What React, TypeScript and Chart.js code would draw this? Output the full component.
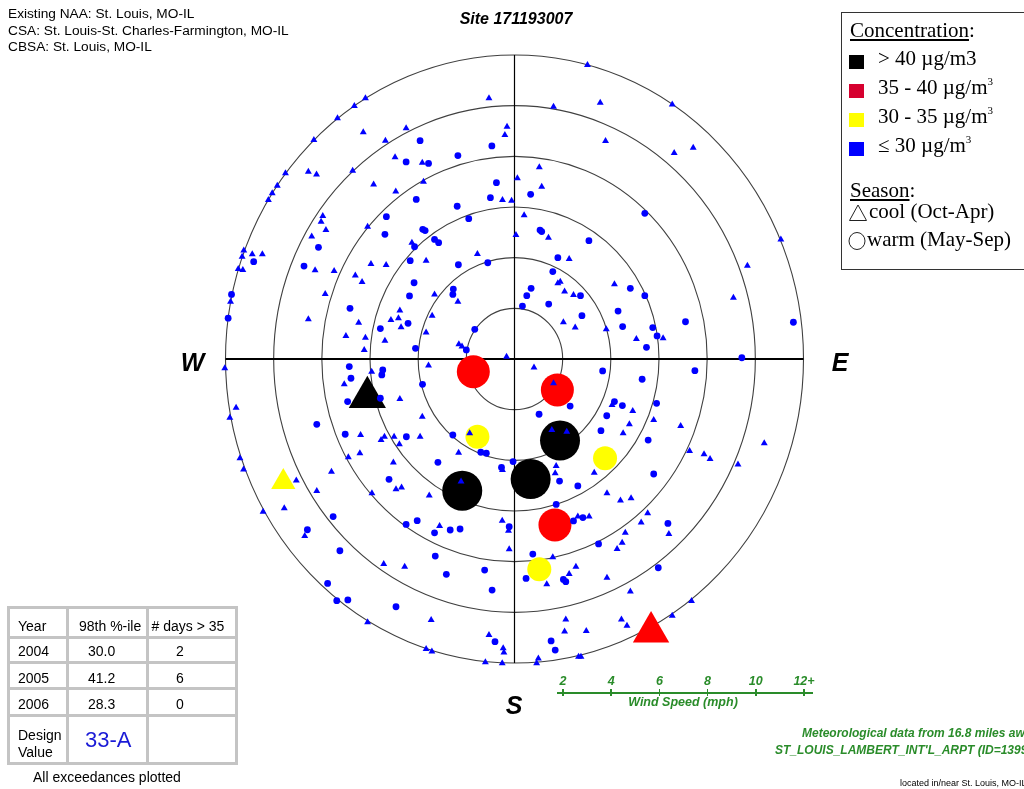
import React, { useEffect, useRef } from "react";
import { Chart, registerables } from "chart.js";

Chart.register(...registerables);

// ---- Wind speed rings (mph) ----
const RING_SPEEDS = [2, 4, 6, 8, 10, 12];
const MAX_SPEED = 12;
const SPEED_TICK_LABELS = ["2", "4", "6", "8", "10", "12+"];

// ---- Observations: [east component, north component] in mph ----
// cool season (Oct-Apr), concentration <= 30 ug/m3
const coolLow: [number, number][] = [
  [-1.06, 10.29], [-6.19, 10.29], [-6.65, 9.99], [-7.35, 9.5], [-0.31, 9.17], [-0.4, 8.84], [-4.5, 9.11],
  [-6.28, 8.95], [-8.33, 8.64], [-5.36, 8.62], [-4.96, 7.96], [-3.83, 7.75], [-9.51, 7.33], [-8.56, 7.39],
  [-8.22, 7.28], [-6.72, 7.43], [-9.85, 6.84], [-10.06, 6.54], [-10.22, 6.28], [-5.85, 6.89], [-3.78, 7.0],
  [-4.93, 6.61], [-0.5, 6.28], [-7.96, 5.64], [-8.03, 5.42], [-7.83, 5.09], [-6.1, 5.22], [-8.42, 4.84],
  [-4.26, 4.59], [-11.24, 4.28], [-11.31, 4.04], [-10.89, 4.13], [-10.47, 4.13], [-11.47, 3.55], [-11.28, 3.51],
  [-8.28, 3.5], [-7.49, 3.47], [-5.96, 3.75], [-5.33, 3.71], [-3.67, 3.88], [-1.54, 4.14], [-6.61, 3.3],
  [-6.33, 3.04], [-7.86, 2.57], [-11.79, 2.26], [-3.32, 2.55], [-2.35, 2.26], [-8.56, 1.57], [-4.76, 1.91],
  [-5.13, 1.54], [-4.82, 1.61], [-6.47, 1.43], [-4.71, 1.25], [-3.42, 1.71], [-7.0, 0.91], [-6.19, 0.84],
  [-5.38, 0.72], [-3.67, 1.05], [-6.24, 0.36], [-2.31, 0.58], [-2.18, 0.49], [-0.33, 0.09],
  [3.03, 11.61], [1.62, 9.96], [3.56, 10.12], [6.55, 10.05], [3.78, 8.61], [6.63, 8.13], [7.42, 8.34],
  [1.03, 7.57], [0.12, 7.13], [1.13, 6.8], [-0.12, 6.25], [0.4, 5.67], [0.06, 4.89], [1.41, 4.79],
  [11.06, 4.72], [2.27, 3.95], [9.67, 3.68], [1.9, 3.05], [1.8, 2.99], [2.08, 2.66], [2.45, 2.53],
  [4.15, 2.95], [9.09, 2.42], [2.03, 1.45], [2.52, 1.24], [3.81, 1.17], [6.17, 0.82], [5.06, 0.79],
  [-12.03, -0.37], [-11.56, -1.92], [-11.82, -2.32], [-11.4, -3.92], [-11.25, -4.36], [-10.44, -6.03],
  [-9.56, -5.89], [-9.06, -4.8], [-8.21, -5.21], [-7.6, -4.45], [-8.71, -6.99], [-6.1, -10.39],
  [-3.46, -10.3], [-3.67, -11.45], [-3.43, -11.55], [-1.06, -10.89], [-0.47, -11.42], [-0.44, -11.59],
  [-1.21, -11.97], [-0.51, -12.01], [-7.07, -1.0], [-5.93, -0.5], [-4.76, -1.58], [-3.57, -0.26],
  [-3.83, -2.28], [-6.39, -3.0], [-5.54, -3.2], [-5.4, -3.07], [-5.0, -3.07], [-4.78, -3.37], [-3.92, -3.07],
  [-1.86, -2.93], [-2.32, -3.7], [-6.42, -3.72], [-6.9, -3.88], [-5.03, -4.09], [-4.92, -5.14], [-4.69, -5.07],
  [-5.92, -5.3], [-3.54, -5.39], [-2.22, -4.84], [-0.5, -4.38], [-3.11, -6.59], [-0.51, -6.38], [-0.25, -6.78],
  [-0.22, -7.51], [-5.43, -8.09], [-4.56, -8.2],
  [0.81, -0.34], [1.62, -0.96], [4.05, -1.82], [4.91, -2.05], [4.77, -2.58], [5.78, -2.41], [6.9, -2.64],
  [4.51, -2.93], [1.55, -2.8], [2.17, -2.87], [10.37, -3.33], [7.27, -3.63], [7.87, -3.76], [8.12, -3.95],
  [9.28, -4.16], [1.73, -4.22], [1.69, -4.51], [3.31, -4.49], [3.84, -5.3], [4.4, -5.59], [4.84, -5.5],
  [2.63, -6.22], [3.1, -6.22], [5.53, -6.09], [5.26, -6.45], [6.41, -6.91], [4.6, -6.86], [4.47, -7.25],
  [4.26, -7.5], [1.59, -7.83], [1.34, -8.89], [2.27, -8.49], [2.55, -8.2], [3.84, -8.63], [4.81, -9.18],
  [7.35, -9.55], [6.55, -10.13], [2.13, -10.28], [4.44, -10.28], [4.67, -10.53], [2.08, -10.76],
  [2.98, -10.74], [0.99, -11.82], [0.92, -12.01], [2.66, -11.75], [2.76, -11.75],
];

// warm season (May-Sep), concentration <= 30 ug/m3
const warmLow: [number, number][] = [
  [-3.92, 8.62], [-0.94, 8.41], [-2.35, 8.03], [-4.5, 7.78], [-3.57, 7.72], [-0.75, 6.96], [-4.08, 6.3],
  [-1.0, 6.37], [-2.38, 6.03], [-1.9, 5.54], [-5.32, 5.62], [-5.38, 4.92], [-3.81, 5.12], [-3.71, 5.07],
  [-8.14, 4.41], [-4.15, 4.43], [-3.32, 4.72], [-3.15, 4.59], [-10.83, 3.84], [-8.74, 3.67], [-4.33, 3.88],
  [-2.33, 3.72], [-1.11, 3.8], [-4.17, 3.01], [-11.75, 2.55], [-4.36, 2.49], [-2.54, 2.76], [-2.56, 2.55],
  [-6.83, 2.0], [-11.89, 1.61], [-4.42, 1.41], [-5.57, 1.2], [-1.65, 1.17], [-4.11, 0.42], [-2.0, 0.36],
  [0.67, 6.5], [5.41, 5.75], [1.06, 5.09], [1.13, 5.03], [3.09, 4.67], [1.8, 4.0], [1.59, 3.45],
  [0.69, 2.79], [2.74, 2.5], [0.51, 2.5], [4.81, 2.79], [5.41, 2.5], [1.42, 2.17], [0.33, 2.09],
  [4.3, 1.89], [2.8, 1.71], [4.49, 1.28], [5.74, 1.24], [5.92, 0.91], [5.48, 0.46], [7.1, 1.47],
  [11.58, 1.45], [9.44, 0.05],
  [-8.21, -2.58], [-7.53, -6.22], [-8.6, -6.74], [-7.25, -7.57], [-7.76, -8.86], [-7.38, -9.54],
  [-6.92, -9.51], [-4.92, -9.78], [-0.81, -11.16], [-6.86, -0.3], [-6.79, -0.76], [-6.93, -1.68],
  [-5.47, -0.43], [-5.51, -0.63], [-5.57, -1.55], [-3.82, -1.0], [-7.03, -2.97], [-4.49, -3.07],
  [-2.56, -3.0], [-1.4, -3.68], [-1.17, -3.72], [-3.18, -4.08], [-5.21, -4.75], [-0.54, -4.28],
  [-0.06, -4.05], [-4.5, -6.53], [-4.04, -6.38], [-3.32, -6.86], [-2.67, -6.75], [-2.26, -6.71],
  [-0.22, -6.62], [-3.29, -7.78], [-2.83, -8.5], [-1.24, -8.33], [-0.93, -9.12],
  [3.66, -0.47], [5.3, -0.8], [7.49, -0.46], [2.31, -1.86], [1.02, -2.18], [4.15, -1.68], [4.48, -1.84],
  [5.9, -1.75], [3.83, -2.24], [3.59, -2.83], [5.55, -3.2], [1.87, -4.82], [2.63, -5.01], [5.78, -4.54],
  [1.73, -5.74], [2.84, -6.26], [2.45, -6.39], [6.37, -6.49], [3.49, -7.3], [0.76, -7.7], [0.48, -8.66],
  [2.03, -8.7], [2.13, -8.79], [5.97, -8.24], [1.52, -11.13], [1.69, -11.49],
];

// exceedance days
const warmOver40: [number, number][] = [[1.89, -3.22], [0.67, -4.74], [-2.17, -5.2]];
const coolOver40: [number, number][] = [[-6.11, -1.51]];
const warm35to40: [number, number][] = [[-1.71, -0.5], [1.78, -1.22], [1.68, -6.55]];
const cool35to40: [number, number][] = [[5.67, -10.78]];
const warm30to35: [number, number][] = [[-1.54, -3.07], [3.76, -3.92], [1.03, -8.3]];
const cool30to35: [number, number][] = [[-9.6, -4.86]];

// ---- Summary table ----
const TABLE_YEARS = ["2004", "2005", "2006"];
const TABLE_P98 = ["30.0", "41.2", "28.3"];
const TABLE_DAYS = ["2", "6", "0"];
const DESIGN_VALUE = "33-A";

const BLUE = "#0000ff";
const GREEN = "#2a8c2a";

const SERIES = [
  { label: "cool ≤30", data: coolLow, style: "triangle", radius: 4, color: BLUE },
  { label: "warm ≤30", data: warmLow, style: "circle", radius: 3.4, color: BLUE },
  { label: "warm >40", data: warmOver40, style: "circle", radius: 20, color: "#000000" },
  { label: "cool >40", data: coolOver40, style: "triangle", radius: 21.5, color: "#000000" },
  { label: "warm 35-40", data: warm35to40, style: "circle", radius: 16.5, color: "#ff0000" },
  { label: "cool 35-40", data: cool35to40, style: "triangle", radius: 21, color: "#ff0000" },
  { label: "warm 30-35", data: warm30to35, style: "circle", radius: 12, color: "#ffff00" },
  { label: "cool 30-35", data: cool30to35, style: "triangle", radius: 14, color: "#ffff00" },
];

const polarGrid = {
  id: "polarGrid",
  beforeDatasetsDraw(chart: any) {
    const { ctx, scales } = chart;
    const x = scales.x;
    const y = scales.y;
    const cx = x.getPixelForValue(0);
    const cy = y.getPixelForValue(0);
    ctx.save();
    ctx.strokeStyle = "#404040";
    ctx.lineWidth = 1.1;
    RING_SPEEDS.forEach((s) => {
      const rx = x.getPixelForValue(s) - cx;
      const ry = cy - y.getPixelForValue(s);
      ctx.beginPath();
      ctx.ellipse(cx, cy, rx, ry, 0, 0, Math.PI * 2);
      ctx.stroke();
    });
    ctx.strokeStyle = "#000";
    ctx.lineWidth = 2;
    ctx.beginPath();
    ctx.moveTo(x.getPixelForValue(-MAX_SPEED), cy);
    ctx.lineTo(x.getPixelForValue(MAX_SPEED), cy);
    ctx.stroke();
    ctx.lineWidth = 1.2;
    ctx.beginPath();
    ctx.moveTo(cx, y.getPixelForValue(MAX_SPEED));
    ctx.lineTo(cx, y.getPixelForValue(-MAX_SPEED));
    ctx.stroke();
    ctx.restore();
  },
};

const SANS = '"Liberation Sans", Arial, sans-serif';
const SERIF = '"Liberation Serif", "Times New Roman", serif';

function Txt(props: {
  x: number;
  y: number;
  size: number;
  children: any;
  align?: "left" | "center";
  style?: any;
}) {
  const { x, y, size, children, align = "left", style = {} } = props;
  return (
    <div
      style={{
        position: "absolute",
        left: x,
        top: y - size * 0.85,
        fontSize: size,
        lineHeight: `${size}px`,
        whiteSpace: "nowrap",
        transform: align === "center" ? "translateX(-50%)" : undefined,
        ...style,
      }}
    >
      {children}
    </div>
  );
}

function Sup3() {
  return (
    <span style={{ fontSize: 11, lineHeight: "11px", verticalAlign: "baseline", position: "relative", top: -9 }}>
      3
    </span>
  );
}

export default function App() {
  const canvasRef = useRef<HTMLCanvasElement | null>(null);

  useEffect(() => {
    if (!canvasRef.current) return;
    const chart = new Chart(canvasRef.current, {
      type: "scatter",
      data: {
        datasets: SERIES.map((s) => ({
          label: s.label,
          data: s.data.map(([x, y]) => ({ x, y })),
          pointStyle: s.style as any,
          pointRadius: s.radius,
          pointBackgroundColor: s.color,
          pointBorderColor: s.color,
          pointBorderWidth: 0,
          backgroundColor: s.color,
          borderColor: s.color,
          clip: false as any,
        })),
      },
      options: {
        responsive: false,
        animation: false,
        events: [],
        layout: { padding: { left: 225.5, right: 220.5, top: 55, bottom: 126 } },
        scales: {
          x: { type: "linear", min: -MAX_SPEED, max: MAX_SPEED, display: false },
          y: { type: "linear", min: -MAX_SPEED, max: MAX_SPEED, display: false },
        },
        plugins: { legend: { display: false }, tooltip: { enabled: false } },
      },
      plugins: [polarGrid],
    });
    return () => chart.destroy();
  }, []);

  const tickXs = [563, 611.2, 659.4, 707.6, 755.8, 804];
  const gray = "#c4c4c4";
  const rowLines = [637, 662, 688, 715];

  return (
    <div
      style={{
        position: "fixed",
        left: 0,
        top: 0,
        width: 1024,
        height: 789,
        overflow: "hidden",
        background: "#fff",
        fontFamily: SANS,
        color: "#000",
      }}
    >
      <canvas ref={canvasRef} width={1024} height={789} style={{ position: "absolute", left: 0, top: 0 }} />

      {/* header */}
      <Txt x={8} y={19} size={13.7}>Existing NAA: St. Louis, MO-IL</Txt>
      <Txt x={8} y={35.5} size={13.7}>CSA: St. Louis-St. Charles-Farmington, MO-IL</Txt>
      <Txt x={8} y={52} size={13.7}>CBSA: St. Louis, MO-IL</Txt>
      <Txt x={516} y={25} size={16} align="center" style={{ fontWeight: "bold", fontStyle: "italic" }}>
        Site 171193007
      </Txt>

      {/* compass labels */}
      <Txt x={192.5} y={371} size={25} align="center" style={{ fontWeight: "bold", fontStyle: "italic" }}>W</Txt>
      <Txt x={840} y={371} size={25} align="center" style={{ fontWeight: "bold", fontStyle: "italic" }}>E</Txt>
      <Txt x={514} y={714} size={25} align="center" style={{ fontWeight: "bold", fontStyle: "italic" }}>S</Txt>

      {/* legend */}
      <div
        style={{
          position: "absolute",
          left: 841,
          top: 12,
          width: 200,
          height: 258,
          border: "1.5px solid #333",
          boxSizing: "border-box",
        }}
      />
      <div style={{ fontFamily: SERIF }}>
        <Txt x={850} y={38} size={21}>
          <span style={{ textDecoration: "underline" }}>Concentration</span>:
        </Txt>
        {[
          { c: "#000000", t: <>&gt; 40 µg/m3</>, y: 66 },
          { c: "#d6002f", t: <>35 - 40 µg/m<Sup3 /></>, y: 94.5 },
          { c: "#ffff00", t: <>30 - 35 µg/m<Sup3 /></>, y: 123.5 },
          { c: "#0000ff", t: <>≤ 30 µg/m<Sup3 /></>, y: 152.5 },
        ].map((r, i) => (
          <React.Fragment key={i}>
            <div style={{ position: "absolute", left: 849, top: r.y - 11, width: 15, height: 14, background: r.c }} />
            <Txt x={878} y={r.y} size={21}>{r.t}</Txt>
          </React.Fragment>
        ))}
        <Txt x={850} y={198} size={21}>
          <span style={{ textDecoration: "underline" }}>Season</span>:
        </Txt>
        <svg style={{ position: "absolute", left: 848, top: 203 }} width={20} height={20}>
          <polygon points="10,2 18.5,17.5 1.5,17.5" fill="none" stroke="#222" strokeWidth={1} />
        </svg>
        <Txt x={869} y={219} size={21}>cool (Oct-Apr)</Txt>
        <svg style={{ position: "absolute", left: 848, top: 231 }} width={20} height={20}>
          <ellipse cx={9} cy={10} rx={8} ry={8.5} fill="none" stroke="#222" strokeWidth={1} />
        </svg>
        <Txt x={867} y={246.5} size={21}>warm (May-Sep)</Txt>
      </div>

      {/* summary table */}
      <div
        style={{
          position: "absolute",
          left: 7,
          top: 606,
          width: 231,
          height: 159,
          border: `3px solid ${gray}`,
          boxSizing: "border-box",
        }}
      />
      {[67, 147].map((x) => (
        <div key={x} style={{ position: "absolute", left: x - 1.5, top: 606, width: 3, height: 159, background: gray }} />
      ))}
      {rowLines.map((y) => (
        <div key={y} style={{ position: "absolute", left: 7, top: y - 1.5, width: 231, height: 3, background: gray }} />
      ))}
      <Txt x={18} y={631} size={14}>Year</Txt>
      <Txt x={79} y={631} size={14}>98th %-ile</Txt>
      <Txt x={151.5} y={631} size={14}># days &gt; 35</Txt>
      {TABLE_YEARS.map((yr, i) => {
        const base = [656, 682.5, 709][i];
        return (
          <React.Fragment key={yr}>
            <Txt x={18} y={base} size={14}>{yr}</Txt>
            <Txt x={88} y={base} size={14}>{TABLE_P98[i]}</Txt>
            <Txt x={176} y={base} size={14}>{TABLE_DAYS[i]}</Txt>
          </React.Fragment>
        );
      })}
      <Txt x={18} y={740} size={14}>Design</Txt>
      <Txt x={18} y={757} size={14}>Value</Txt>
      <Txt x={85} y={748} size={22} style={{ color: "#1a1ad6" }}>{DESIGN_VALUE}</Txt>
      <Txt x={33} y={782} size={14}>All exceedances plotted</Txt>

      {/* wind speed scale */}
      <div style={{ position: "absolute", left: 557, top: 692, width: 256, height: 1.5, background: GREEN }} />
      {tickXs.map((x, i) => (
        <React.Fragment key={i}>
          <div style={{ position: "absolute", left: x - 0.75, top: 689, width: 1.5, height: 7, background: GREEN }} />
          <Txt x={x} y={686} size={12.5} align="center" style={{ color: GREEN, fontWeight: "bold", fontStyle: "italic" }}>
            {SPEED_TICK_LABELS[i]}
          </Txt>
        </React.Fragment>
      ))}
      <Txt x={683} y={707} size={12.5} align="center" style={{ color: GREEN, fontWeight: "bold", fontStyle: "italic" }}>
        Wind Speed (mph)
      </Txt>

      {/* met station notes */}
      <Txt x={802} y={737} size={12} style={{ color: GREEN, fontWeight: "bold", fontStyle: "italic" }}>
        Meteorological data from 16.8 miles away
      </Txt>
      <Txt x={775} y={754} size={12} style={{ color: GREEN, fontWeight: "bold", fontStyle: "italic" }}>
        ST_LOUIS_LAMBERT_INT'L_ARPT (ID=13994)
      </Txt>
      <Txt x={900} y={787} size={9}>located in/near St. Louis, MO-IL</Txt>
    </div>
  );
}
